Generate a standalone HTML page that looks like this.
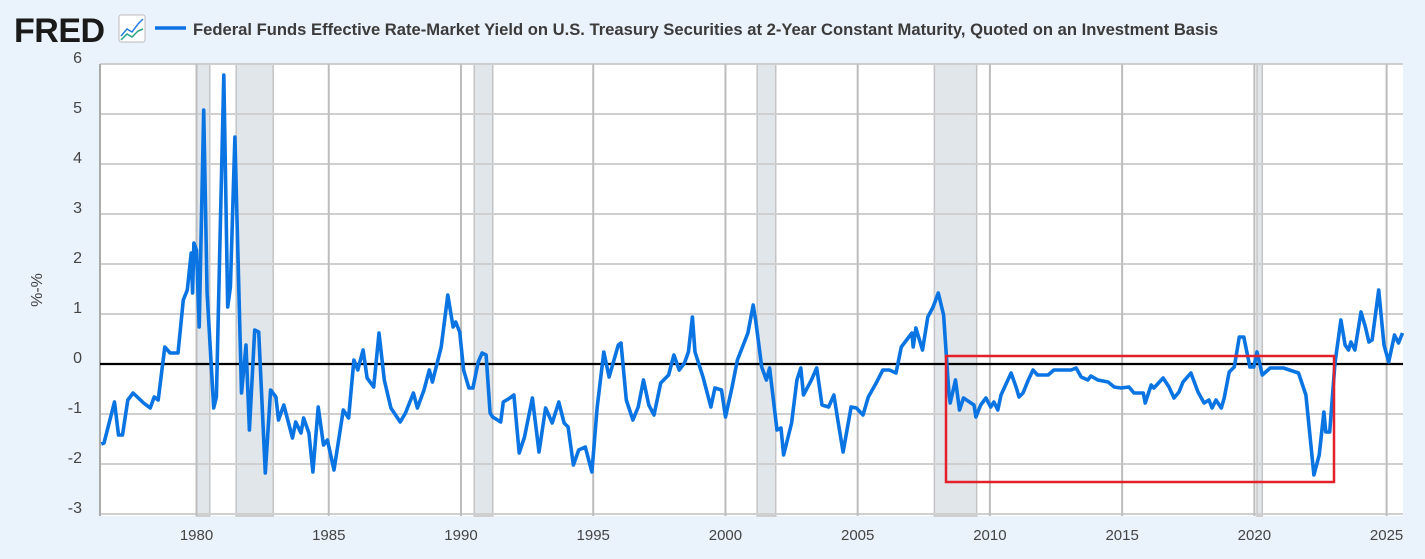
<!DOCTYPE html>
<html><head><meta charset="utf-8">
<style>
html,body{margin:0;padding:0;background:#eaf2fb;}
body{width:1425px;height:554px;overflow:hidden;font-family:"Liberation Sans",sans-serif;}
</style></head>
<body>
<svg id="chart" width="1425" height="554" xmlns="http://www.w3.org/2000/svg" font-family="Liberation Sans, sans-serif">
  <rect x="0" y="0" width="1425" height="554" fill="#eaf2fb"/>
  <text x="14" y="42" font-size="34" font-weight="bold" fill="#1a1a1a" letter-spacing="-0.5">FRED</text>
  <g>
    <rect x="119" y="15" width="26" height="27" rx="2" fill="#fff" stroke="#bbb"/>
    <polyline points="121,36 127,29 132,32 138,24 143,19" fill="none" stroke="#2a7de1" stroke-width="1.5"/>
    <polyline points="121,40 127,34 132,37 138,31 143,29" fill="none" stroke="#2aa38a" stroke-width="1.5"/>
  </g>
  <line x1="155" y1="28" x2="186" y2="28" stroke="#0a72e3" stroke-width="3.5"/>
  <text x="193" y="35" font-size="16.6" font-weight="bold" fill="#3b3b3b">Federal Funds Effective Rate-Market Yield on U.S. Treasury Securities at 2-Year Constant Maturity, Quoted on an Investment Basis</text>
  <rect x="100" y="64" width="1303" height="452" fill="#fff"/>
  <g id="rec"></g>
  <g id="grid"></g>
  <g id="series"></g>
  <rect x="946" y="356" width="388" height="126" fill="none" stroke="#e3212b" stroke-width="2.5"/>
  <text transform="translate(42,290) rotate(-90)" text-anchor="middle" font-size="16" fill="#444">%-%</text>
</svg>
<script>
const yTicks=[-3,-2,-1,0,1,2,3,4,5,6];
const xTicks=[1980,1985,1990,1995,2000,2005,2010,2015,2020,2025];
const recStart=[1980.0,1981.5,1990.5,2001.2,2007.9,2020.1];
const recEnd=[1980.5,1982.9,1991.2,2001.9,2009.5,2020.3];
const dates=[1976.4,1976.5,1976.9,1977.05,1977.2,1977.4,1977.6,1978.0,1978.25,1978.4,1978.55,1978.8,1979.0,1979.3,1979.5,1979.65,1979.8,1979.85,1979.9,1980.0,1980.1,1980.27,1980.4,1980.65,1980.75,1981.03,1981.18,1981.28,1981.45,1981.7,1981.87,1982.0,1982.2,1982.35,1982.6,1982.8,1983.0,1983.1,1983.3,1983.63,1983.75,1983.95,1984.05,1984.25,1984.4,1984.6,1984.8,1984.95,1985.2,1985.55,1985.75,1985.95,1986.1,1986.3,1986.45,1986.7,1986.9,1987.1,1987.35,1987.7,1987.9,1988.2,1988.35,1988.6,1988.8,1988.92,1989.25,1989.5,1989.7,1989.8,1989.95,1990.1,1990.3,1990.45,1990.65,1990.8,1990.95,1991.1,1991.2,1991.5,1991.6,1991.85,1992.0,1992.2,1992.4,1992.7,1992.95,1993.2,1993.45,1993.7,1993.9,1994.05,1994.25,1994.45,1994.7,1994.95,1995.15,1995.4,1995.6,1995.95,1996.05,1996.25,1996.5,1996.7,1996.9,1997.1,1997.3,1997.55,1997.85,1998.05,1998.25,1998.45,1998.6,1998.75,1998.85,1999.15,1999.45,1999.6,1999.85,2000.0,2000.25,2000.45,2000.85,2001.05,2001.15,2001.37,2001.55,2001.67,2001.95,2002.1,2002.2,2002.5,2002.7,2002.85,2002.95,2003.25,2003.45,2003.65,2003.9,2004.1,2004.25,2004.45,2004.75,2004.95,2005.2,2005.4,2005.7,2005.95,2006.2,2006.45,2006.65,2006.85,2007.05,2007.1,2007.2,2007.45,2007.65,2007.85,2008.05,2008.25,2008.45,2008.5,2008.7,2008.85,2009.0,2009.4,2009.47,2009.65,2009.85,2010.03,2010.15,2010.3,2010.42,2010.8,2011.0,2011.1,2011.25,2011.45,2011.63,2011.8,2012.2,2012.42,2012.7,2013.07,2013.26,2013.45,2013.7,2013.82,2014.08,2014.47,2014.7,2014.95,2015.26,2015.45,2015.8,2015.87,2016.1,2016.2,2016.55,2016.77,2016.96,2017.15,2017.3,2017.6,2017.87,2018.1,2018.28,2018.4,2018.55,2018.75,2018.86,2019.05,2019.24,2019.43,2019.6,2019.83,2019.98,2020.1,2020.3,2020.6,2021.1,2021.67,2021.95,2022.25,2022.45,2022.63,2022.7,2022.85,2023.05,2023.27,2023.43,2023.56,2023.65,2023.8,2024.03,2024.2,2024.33,2024.45,2024.7,2024.9,2025.08,2025.3,2025.45,2025.6];
const values=[-1.6,-1.58,-0.76,-1.42,-1.42,-0.72,-0.58,-0.78,-0.88,-0.66,-0.72,0.34,0.22,0.22,1.28,1.48,2.22,1.42,2.42,2.28,0.74,5.08,1.42,-0.88,-0.66,5.78,1.14,1.54,4.54,-0.58,0.38,-1.32,0.68,0.64,-2.18,-0.52,-0.66,-1.12,-0.82,-1.48,-1.16,-1.38,-1.08,-1.38,-2.16,-0.86,-1.62,-1.52,-2.12,-0.92,-1.08,0.08,-0.12,0.28,-0.28,-0.46,0.62,-0.32,-0.88,-1.16,-0.98,-0.58,-0.88,-0.52,-0.12,-0.36,0.34,1.38,0.74,0.84,0.64,-0.12,-0.48,-0.48,0.04,0.22,0.18,-0.98,-1.06,-1.16,-0.76,-0.68,-0.62,-1.78,-1.46,-0.68,-1.76,-0.88,-1.18,-0.76,-1.18,-1.26,-2.02,-1.72,-1.66,-2.16,-0.86,0.24,-0.26,0.38,0.42,-0.72,-1.12,-0.86,-0.32,-0.82,-1.02,-0.38,-0.22,0.18,-0.12,0.02,0.24,0.94,0.24,-0.26,-0.86,-0.48,-0.52,-1.06,-0.46,0.08,0.62,1.18,0.84,-0.06,-0.32,-0.08,-1.32,-1.28,-1.82,-1.18,-0.32,-0.08,-0.62,-0.32,-0.08,-0.82,-0.86,-0.62,-1.12,-1.76,-0.86,-0.88,-1.02,-0.66,-0.38,-0.12,-0.12,-0.18,0.34,0.48,0.62,0.34,0.72,0.28,0.94,1.14,1.42,0.98,-0.58,-0.78,-0.32,-0.92,-0.68,-0.82,-1.06,-0.82,-0.68,-0.86,-0.76,-0.92,-0.62,-0.18,-0.48,-0.66,-0.58,-0.32,-0.12,-0.22,-0.22,-0.12,-0.12,-0.12,-0.08,-0.26,-0.32,-0.24,-0.32,-0.36,-0.46,-0.48,-0.46,-0.58,-0.58,-0.78,-0.42,-0.48,-0.28,-0.46,-0.68,-0.56,-0.36,-0.18,-0.56,-0.78,-0.72,-0.88,-0.72,-0.88,-0.68,-0.16,-0.06,0.54,0.54,-0.06,-0.06,0.24,-0.22,-0.08,-0.08,-0.18,-0.62,-2.22,-1.82,-0.96,-1.36,-1.36,0.02,0.88,0.38,0.28,0.44,0.28,1.04,0.74,0.44,0.48,1.48,0.38,0.04,0.58,0.42,0.62];

const NS='http://www.w3.org/2000/svg';
const X0=100,X1=1403,Y0=64,Y1=516;
const xMin=1976.35,xMax=2025.62;
function xs(v){return X0+(v-xMin)/(xMax-xMin)*(X1-X0);}
function ys(v){return 364-v*50;}
function mk(tag,attrs,parent){const e=document.createElementNS(NS,tag);for(const k in attrs)e.setAttribute(k,attrs[k]);parent.appendChild(e);return e;}
const svg=document.getElementById('chart');
const rec=document.getElementById('rec'),grid=document.getElementById('grid'),series=document.getElementById('series');
for(let i=0;i<recStart.length;i++){
  const r=mk('rect',{x:xs(recStart[i]),y:Y0,width:xs(recEnd[i])-xs(recStart[i]),height:Y1-Y0,fill:'#e1e6eb',stroke:'#c4c4c4','stroke-width':1.5},rec);
  
  
}
yTicks.forEach(t=>{
  if(t!==0){
    const l=mk('line',{x1:X0,x2:X1,y1:ys(t),y2:ys(t),stroke:'#cfcfcf','stroke-width':2},grid);
    
    
  }
  const tx=mk('text',{x:82,y:ys(t)-1,'text-anchor':'end','font-size':16,fill:'#444'},svg);
  tx.textContent=t;
  
  
});
xTicks.forEach(t=>{
  const l=mk('line',{x1:xs(t),x2:xs(t),y1:Y0,y2:Y1,stroke:'#bdbdbd','stroke-width':2},grid);
  
  
  const tx=mk('text',{x:xs(t),y:540,'text-anchor':'middle','font-size':15,fill:'#444'},svg);
  tx.textContent=t;
  
  
});
const ax=mk('line',{x1:X0,x2:X0,y1:Y0,y2:Y1,stroke:'#aaa','stroke-width':2},grid);


const zl=mk('line',{x1:X0,x2:X1,y1:ys(0),y2:ys(0),stroke:'#000','stroke-width':2.2},grid);


const pts=dates.map((d,i)=>xs(d).toFixed(1)+','+ys(values[i]).toFixed(1)).join(' ');
const pl=mk('polyline',{points:pts,fill:'none',stroke:'#0a74e3','stroke-width':3.6,'stroke-linejoin':'round'},series);


</script>
</body></html>
